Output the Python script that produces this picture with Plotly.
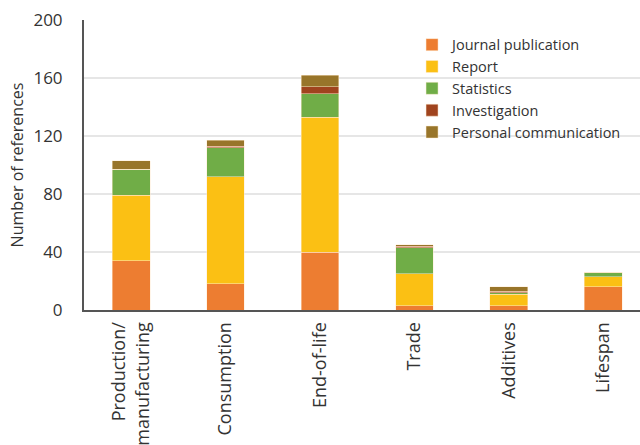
import plotly.graph_objects as go

categories = ["Production/<br>manufacturing", "Consumption", "End-of-life", "Trade", "Additives", "Lifespan"]
series_names = ["Journal publication", "Report", "Statistics", "Investigation", "Personal communication"]
journal = [34, 18, 40, 3, 3, 16]
report = [45, 74, 93, 22, 8, 7]
statistics = [18, 20, 16, 18, 1, 3]
investigation = [0, 1, 5, 1, 1, 0]
personal = [6, 4, 8, 1, 3, 0]
y_ticks = [0, 40, 80, 120, 160, 200]

colors = ["#ED7D31", "#FBC014", "#70AD47", "#A0441E", "#98752A"]
values = [journal, report, statistics, investigation, personal]

fig = go.Figure()
for name, vals, c in zip(series_names, values, colors):
    fig.add_trace(go.Bar(
        x=list(range(len(categories))), y=vals, name=name,
        marker=dict(color=c, line=dict(color="rgba(255,235,210,0.8)", width=0.6)),
        width=0.4,
    ))

fig.update_layout(
    barmode="stack",
    width=640, height=445,
    margin=dict(l=84, r=0, t=20, b=135),
    paper_bgcolor="white", plot_bgcolor="white",
    font=dict(family="Open Sans", color="#333333", size=15),
    legend=dict(
        x=0.59, y=0.97, xanchor="left", yanchor="top",
        font=dict(size=14.5, color="#333333"),
        traceorder="normal", bgcolor="rgba(0,0,0,0)",
        itemwidth=30, tracegroupgap=0,
    ),
    showlegend=True,
)
fig.update_xaxes(
    tickmode="array", tickvals=list(range(len(categories))), ticktext=categories,
    tickangle=-90, range=[-0.5, 5.39],
    showline=True, linecolor="#555555", linewidth=2,
    showgrid=False, ticks="", ticklabelstandoff=3,
    tickfont=dict(size=18, color="#333333"),
)
fig.update_yaxes(
    range=[0, 200], tickvals=y_ticks,
    showline=True, linecolor="#555555", linewidth=2,
    showgrid=True, gridcolor="#e6e6e6", gridwidth=1.5,
    ticks="", ticklabelstandoff=16,
    tickfont=dict(size=17, color="#333333"),
    title=dict(text="Number of references", font=dict(size=16, color="#333333"), standoff=6),
    zeroline=False,
)

fig.write_html("out.html")
